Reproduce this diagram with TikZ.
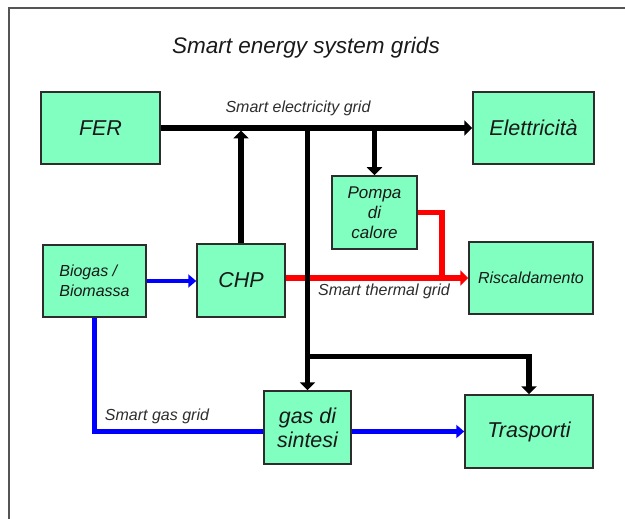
\documentclass[tikz,border=0pt]{standalone}
\usepackage{fontspec}
\setmainfont{Liberation Sans}
\usetikzlibrary{arrows.meta,calc}
\definecolor{boxfill}{RGB}{128,255,192}
\definecolor{boxline}{RGB}{45,45,45}
\definecolor{framegray}{RGB}{85,85,85}
\definecolor{txt}{RGB}{25,25,25}
\definecolor{lbl}{RGB}{45,45,45}
\begin{document}
\begin{tikzpicture}[x=1pt,y=-1pt,
  box/.style={draw=boxline, line width=1.5pt, fill=boxfill, inner sep=0pt, align=center, text=txt},
  bigtxt/.style={font=\itshape\fontsize{21.5}{24}\selectfont},
  midtxt/.style={font=\itshape\fontsize{17}{20}\selectfont},
  smalltxt/.style={font=\itshape\fontsize{16}{19.5}\selectfont},
  gridlbl/.style={font=\itshape\fontsize{16}{18}\selectfont, text=lbl, inner sep=0pt},
  blk/.style={line width=5.5pt, black},
  redl/.style={line width=5.5pt, red},
  bluel/.style={line width=4.5pt, blue},
  tipk/.style={-{Triangle[length=8pt,width=15pt]}},
  tipb/.style={-{Triangle[length=8pt,width=13pt]}}
]
\useasboundingbox (0,0) rectangle (625,519);
\draw[framegray, line width=2pt] (9,519) -- (9,8) -- (625,8);

\node[font=\itshape\fontsize{22.5}{26}\selectfont, text=txt] (title) at (306,48) {Smart energy system grids};

\node[box, bigtxt, minimum width=119pt, minimum height=72pt] (fer) at (100.5,128) {FER};
\node[box, bigtxt, minimum width=121pt, minimum height=72pt] (el) at (533.5,128) {Elettricità};
\node[box, smalltxt, align=left, minimum width=103pt, minimum height=72pt] (bio) at (94.5,281) {Biogas /\\Biomassa};
\node[box, bigtxt, minimum width=88pt, minimum height=73pt] (chp) at (241,280.5) {CHP};
\node[box, midtxt, minimum width=85pt, minimum height=73pt] (pompa) at (374.5,212.5) {Pompa\\di\\calore};
\node[box, smalltxt, minimum width=124pt, minimum height=72pt] (risc) at (531,278) {Riscaldamento};
\node[box, bigtxt, minimum width=87pt, minimum height=73pt] (gas) at (307.5,427.5) {gas di\\sintesi};
\node[box, bigtxt, minimum width=128pt, minimum height=73pt] (tr) at (529,431.5) {Trasporti};

\node[gridlbl] (lel) at (298,108) {Smart electricity grid};
\node[gridlbl] (lth) at (384,291) {Smart thermal grid};
\node[gridlbl] (lgas) at (157,416) {Smart gas grid};

% blue gas grid
\draw[bluel, tipb] (bio.east) -- (bio.east -| chp.west);
\draw[bluel] (bio.south) |- (gas.west |- tr.west);
\draw[bluel, tipb] (gas.east |- tr.west) -- (tr.west);

% red thermal grid
\coordinate (rj) at (442,278);
\draw[redl, tipk] (chp.east |- risc.west) -- (risc.west);
\draw[redl] (pompa.east) -| (rj);

% black electricity grid
\draw[blk, tipk] (fer.east) -- (el.west);
\coordinate (chptop) at ($(chp.north |- fer.east)+(0,2.5)$);
\draw[blk, tipk] (chp.north) -- (chptop);
\draw[blk, tipk] (pompa.north |- fer.east) -- (pompa.north);
\draw[blk, tipk] (gas.north |- fer.east) -- (gas.north);
\coordinate (br) at ($(gas.north)+(0,-34)$);
\draw[blk, tipk] (br) -| (tr.north);
\end{tikzpicture}
\end{document}
